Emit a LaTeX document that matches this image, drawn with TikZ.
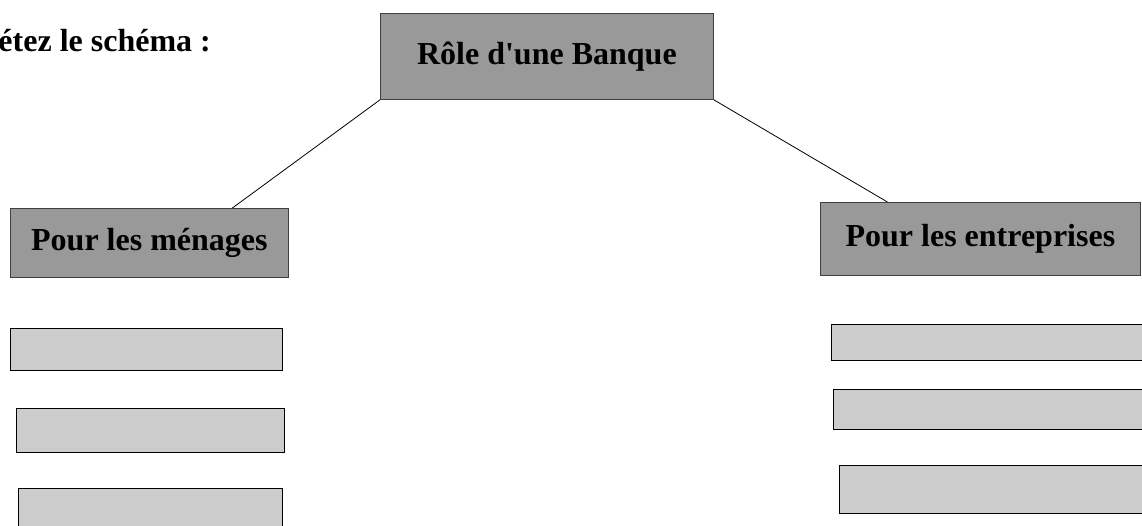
\documentclass[tikz,border=0pt]{standalone}
\usepackage{fontspec}
\setmainfont{Liberation Serif}
\tikzset{
    head/.style={draw=black!75, fill=black!40, line width=0.8pt, inner sep=0pt,
        anchor=north west, font=\fontsize{32}{38}\selectfont\bfseries},
    blank/.style={draw=black, fill=black!20, line width=0.8pt, inner sep=0pt,
        anchor=north west},
}
\begin{document}
\begin{tikzpicture}[x=1pt, y=-1pt]
    \useasboundingbox (0,0) rectangle (1142,526);
    \node[anchor=base east, inner sep=0pt, font=\fontsize{32}{38}\selectfont\bfseries]
        (consigne) at (211,52) {étez le schéma :};
    \node[head, minimum width=333pt, minimum height=86pt] (banque) at (380,13) {Rôle d\textquotesingle une Banque};
    \node[head, minimum width=278pt, minimum height=69pt] (menages) at (10,208) {Pour les ménages};
    \node[head, minimum width=320pt, minimum height=73pt] (entreprises) at (820,202) {Pour les entreprises};
    \node[blank, minimum width=272pt, minimum height=42pt] (m1) at (10,328) {};
    \node[blank, minimum width=268pt, minimum height=44pt] (m2) at (16,408) {};
    \node[blank, minimum width=264pt, minimum height=50pt] (m3) at (18,488) {};
    \node[blank, minimum width=320pt, minimum height=36pt] (e1) at (831,324) {};
    \node[blank, minimum width=320pt, minimum height=40pt] (e2) at (833,389) {};
    \node[blank, minimum width=310pt, minimum height=48pt] (e3) at (839,465) {};
    \draw[line width=0.8pt] (banque.south west) -- ([xshift=83pt]menages.north);
    \draw[line width=0.8pt] (banque.south east) -- ([xshift=-93pt]entreprises.north);
\end{tikzpicture}
\end{document}
